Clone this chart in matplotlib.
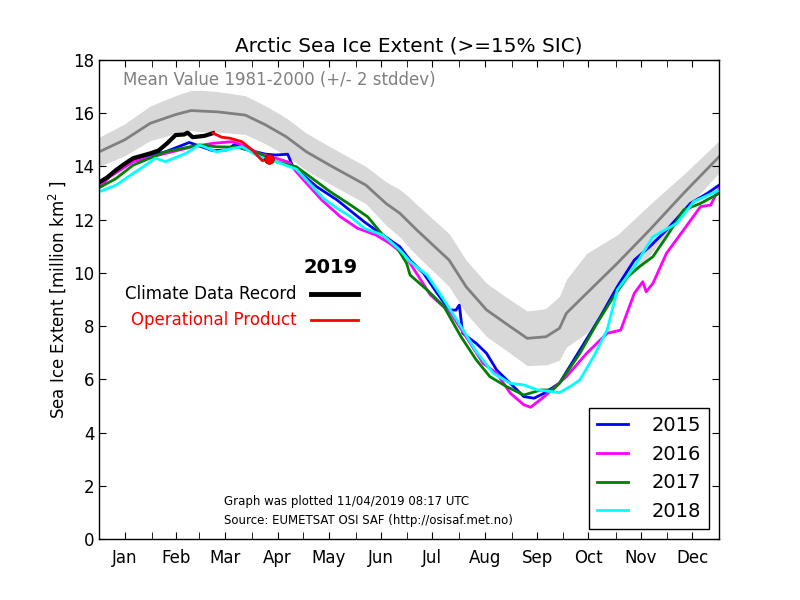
import matplotlib
matplotlib.use("Agg")
import matplotlib.pyplot as plt
import numpy as np

# ---- data (day of year, million km^2) ----
mean_days = [0, 15, 30, 45, 54, 70, 86, 98, 110, 122, 137, 157, 169, 177, 187, 206, 216, 228, 242, 252, 263, 271, 275, 285, 305, 324, 344, 365]
mean_vals = [14.55, 15.0, 15.62, 15.95, 16.1, 16.05, 15.93, 15.56, 15.12, 14.55, 14.0, 13.3, 12.6, 12.24, 11.61, 10.48, 9.48, 8.61, 7.98, 7.54, 7.6, 7.92, 8.48, 9.11, 10.36, 11.61, 12.99, 14.37]
band_days = [0, 30, 60, 90, 120, 157, 183, 210, 240, 262, 274, 287, 305, 324, 345, 365]
band_half = [0.55, 0.65, 0.78, 0.72, 0.7, 0.7, 0.95, 1.0, 1.0, 1.05, 1.25, 1.5, 1.07, 0.95, 0.7, 0.6]

d2015 = [0, 6, 20, 39, 53, 67, 75, 80, 84, 98, 104, 111, 114, 121, 128, 140, 156, 167, 177, 183, 191, 199, 206, 210, 212, 214, 222, 228, 234, 242, 250, 256, 262, 271, 283, 295, 305, 315, 324, 334, 348, 358, 365]
v2015 = [13.35, 13.68, 14.24, 14.55, 14.9, 14.59, 14.62, 14.84, 14.68, 14.46, 14.43, 14.46, 13.99, 13.62, 13.24, 12.74, 11.92, 11.42, 10.98, 10.48, 9.98, 9.23, 8.61, 8.6, 8.79, 7.73, 7.35, 6.98, 6.35, 5.85, 5.35, 5.29, 5.48, 5.86, 7.1, 8.35, 9.48, 10.48, 10.98, 11.61, 12.61, 12.99, 13.3]

d2016 = [0, 6, 20, 39, 55, 67, 78, 84, 94, 104, 112, 116, 122, 131, 142, 152, 163, 171, 181, 183, 195, 207, 216, 226, 234, 242, 250, 254, 262, 275, 287, 299, 307, 315, 320, 322, 326, 334, 344, 354, 360, 365]
v2016 = [13.2, 13.6, 14.18, 14.49, 14.74, 14.87, 14.93, 14.81, 14.49, 14.31, 14.15, 13.8, 13.37, 12.74, 12.11, 11.68, 11.42, 11.11, 10.61, 10.36, 9.17, 8.48, 7.6, 6.6, 6.23, 5.48, 5.04, 4.95, 5.35, 6.1, 6.98, 7.73, 7.85, 9.23, 9.67, 9.29, 9.61, 10.74, 11.61, 12.49, 12.55, 13.18]

d2017 = [0, 10, 20, 39, 59, 69, 82, 94, 104, 116, 128, 136, 148, 158, 167, 175, 181, 183, 193, 203, 213, 222, 230, 240, 250, 260, 267, 271, 283, 293, 301, 311, 318, 326, 334, 344, 354, 365]
v2017 = [13.2, 13.55, 14.05, 14.55, 14.81, 14.74, 14.72, 14.49, 14.18, 13.99, 13.43, 13.05, 12.55, 12.11, 11.42, 10.98, 10.36, 9.92, 9.36, 8.73, 7.6, 6.73, 6.1, 5.72, 5.41, 5.6, 5.6, 5.85, 6.98, 8.1, 8.92, 9.86, 10.23, 10.61, 11.36, 12.36, 12.61, 12.99]

d2018 = [0, 10, 20, 26, 33, 39, 51, 59, 69, 79, 84, 94, 104, 116, 122, 132, 140, 148, 156, 167, 177, 183, 193, 203, 213, 222, 232, 242, 250, 258, 266, 271, 279, 283, 291, 299, 305, 315, 326, 340, 350, 365]
v2018 = [13.05, 13.3, 13.74, 13.99, 14.31, 14.18, 14.49, 14.81, 14.55, 14.68, 14.74, 14.37, 14.18, 13.9, 13.49, 12.8, 12.43, 12.11, 11.68, 11.42, 10.86, 10.42, 9.92, 8.98, 7.98, 7.04, 6.23, 5.85, 5.79, 5.6, 5.54, 5.5, 5.8, 5.98, 6.85, 7.85, 9.36, 10.23, 11.36, 11.86, 12.68, 13.11]

d2019_cdr = [0, 5, 10, 15, 20, 25, 30, 35, 40, 45, 50, 52, 55, 58, 62, 67]
v2019_cdr = [13.4, 13.6, 13.87, 14.1, 14.31, 14.4, 14.49, 14.6, 14.87, 15.18, 15.2, 15.27, 15.1, 15.12, 15.15, 15.25]
d2019_op = [67, 72, 77, 84, 90, 96, 100]
v2019_op = [15.25, 15.1, 15.06, 14.93, 14.62, 14.22, 14.27]

month_labels = ['Jan', 'Feb', 'Mar', 'Apr', 'May', 'Jun', 'Jul', 'Aug', 'Sep', 'Oct', 'Nov', 'Dec']
month_starts = [31, 59, 90, 120, 151, 181, 212, 243, 273, 304, 334]
month_mids = [15, 45, 74, 105, 135, 166, 196, 227, 258, 288, 319, 349]

# ---- figure ----
fig = plt.figure(figsize=(8, 6), dpi=100)
ax = fig.add_axes([0.124, 0.1017, 0.775, 0.7983])

grid = np.arange(0, 366)
m = np.interp(grid, mean_days, mean_vals)
h = np.interp(grid, band_days, band_half)
ax.fill_between(grid, m - h, m + h, color='#d8d8d8', linewidth=0)
ax.plot(mean_days, mean_vals, color='gray', lw=2)

l15, = ax.plot(d2015, v2015, color='blue', lw=2, label='2015')
l16, = ax.plot(d2016, v2016, color='magenta', lw=2, label='2016')
l17, = ax.plot(d2017, v2017, color='green', lw=2, label='2017')
l18, = ax.plot(d2018, v2018, color='cyan', lw=2, label='2018')
ax.plot(d2019_cdr, v2019_cdr, color='black', lw=3)
ax.plot(d2019_op, v2019_op, color='red', lw=2)
ax.plot([d2019_op[-1]], [v2019_op[-1]], 'o', color='red', markersize=7, markeredgecolor='darkred', markeredgewidth=0.5)

ax.set_xlim(0, 365)
ax.set_ylim(0, 18)
ax.set_yticks(np.arange(0, 19, 2))
ax.set_xticks(month_mids)
ax.set_xticklabels(month_labels)
ax.set_xticks(month_starts, minor=True)
ax.tick_params(axis='both', which='both', direction='in', top=True, right=True, length=5, labelsize=12)
ax.tick_params(axis='x', which='major', pad=7)
for s in ax.spines.values():
    s.set_linewidth(1)

ax.set_title('Arctic Sea Ice Extent (>=15% SIC)', fontsize=14.4)
ax.set_ylabel('Sea Ice Extent [million km$^2$ ]', fontsize=12)

ax.text(14, 17.25, 'Mean Value 1981-2000 (+/- 2 stddev)', color='gray', fontsize=12, va='center')
ax.text(152.4, 10.22, '2019', fontsize=14, fontweight='bold', ha='right', va='center')
ax.text(116, 9.21, 'Climate Data Record', fontsize=12, ha='right', va='center', color='black')
ax.text(116, 8.23, 'Operational Product', fontsize=12, ha='right', va='center', color='red')
ax.plot([124.8, 152.4], [9.21, 9.21], color='black', lw=3.5)
ax.plot([124.8, 152.4], [8.23, 8.23], color='red', lw=2)

ax.text(73.6, 1.39, 'Graph was plotted 11/04/2019 08:17 UTC', fontsize=8.5, va='center')
ax.text(73.6, 0.68, 'Source: EUMETSAT OSI SAF (http://osisaf.met.no)', fontsize=8.5, va='center')

leg = ax.legend(handles=[l15, l16, l17, l18], loc='lower right', fontsize=14,
                handlelength=1.6, handletextpad=1.2, labelspacing=0.5,
                fancybox=False, framealpha=1, edgecolor='black', borderpad=0.42)
leg.get_frame().set_linewidth(1)

fig.savefig('out.png', dpi=100)
